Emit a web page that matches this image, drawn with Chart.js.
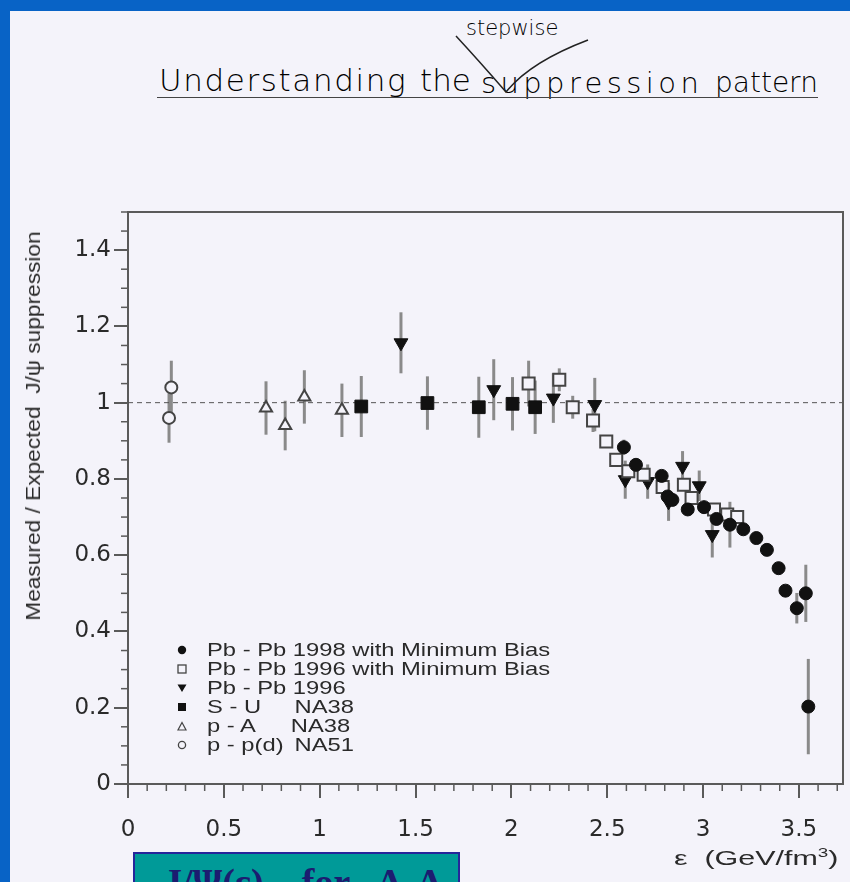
<!DOCTYPE html>
<html>
<head>
<meta charset="utf-8">
<script src="https://cdn.jsdelivr.net/npm/chart.js@4.4.0/dist/chart.umd.min.js"></script>
<style>
  html, body { margin: 0; padding: 0; }
  body { width: 850px; height: 882px; background: #0863c6; position: relative; overflow: hidden;
         font-family: "Liberation Sans", Arial, sans-serif; }
  #paper { position: absolute; left: 10px; top: 11px; width: 840px; height: 871px; background: #f4f3fa; }
  #chart { position: absolute; left: 0; top: 0; }
  .hand { position: absolute; font-family: "DejaVu Sans", sans-serif; font-weight: 200; color: #000; white-space: pre; }
  #underline { position: absolute; left: 157px; top: 97px; width: 661px; height: 0; border-top: 1.5px solid #444; }
  #ylabel { position: absolute; left: 33px; top: 426px; transform: translate(-50%, -50%) rotate(-90deg) scaleX(1.08);
            font-size: 21px; color: #2a2a2a; white-space: pre; }
  #xlabel { position: absolute; right: 12px; top: 845px; font-size: 21px; color: #2a2a2a; white-space: pre;
            transform: scaleX(1.45); transform-origin: right center; }
  #legend { position: absolute; left: 174px; top: 640px; color: #2a2a2a; }
  .row { position: relative; height: 19px; line-height: 19px; }
  .row svg { position: absolute; left: 3px; top: 5px; }
  .txt { position: absolute; left: 33px; font-size: 19px; transform: scaleX(1.25); transform-origin: left center; white-space: pre; }
  .col2 { position: absolute; left: 70px; }
  #box { position: absolute; left: 133px; top: 852px; width: 323px; height: 40px; background: #009a98;
         border: 2px solid #25259a; overflow: hidden; }
  #box span { position: absolute; left: 28px; top: 6px; font-family: "Liberation Serif", serif; font-weight: bold;
              font-size: 38px; color: #1c1c70; white-space: pre; }
</style>
</head>
<body>
<div id="paper"></div>

<div class="hand" style="left:159px; top:62px; font-size:31px; letter-spacing:1.6px;">Understanding</div>
<div class="hand" style="left:420px; top:62px; font-size:31px;">the</div>
<div class="hand" style="left:481px; top:66px; font-size:29px; letter-spacing:4.4px;">suppression</div>
<div class="hand" style="left:715px; top:66px; font-size:28px;">pattern</div>
<div class="hand" style="left:466px; top:16px; font-size:21px;">stepwise</div>
<svg style="position:absolute; left:0; top:0;" width="850" height="120">
  <path d="M456 36 Q480 62 506 92 Q530 62 588 40" fill="none" stroke="#222" stroke-width="1.5"/>
</svg>
<div id="underline"></div>

<canvas id="chart" width="850" height="882"></canvas>

<div id="ylabel">Measured / Expected  J/ψ suppression</div>
<div id="xlabel">ε  (GeV/fm<sup style="font-size:13px">3</sup>)</div>

<div id="legend">
  <div class="row"><svg width="10" height="10"><circle cx="5" cy="5" r="4.2" fill="#111"/></svg><span class="txt">Pb - Pb 1998 with Minimum Bias</span></div>
  <div class="row"><svg width="10" height="10"><rect x="1" y="1" width="8" height="8" fill="none" stroke="#444" stroke-width="1.3"/></svg><span class="txt">Pb - Pb 1996 with Minimum Bias</span></div>
  <div class="row"><svg width="10" height="10"><path d="M0.5 1.5 L9.5 1.5 L5 9 Z" fill="#111"/></svg><span class="txt">Pb - Pb 1996</span></div>
  <div class="row"><svg width="10" height="10"><rect x="1" y="1" width="8" height="8" fill="#111"/></svg><span class="txt">S - U<span class="col2">NA38</span></span></div>
  <div class="row"><svg width="10" height="10"><path d="M1 9 L9 9 L5 1.5 Z" fill="none" stroke="#444" stroke-width="1.2"/></svg><span class="txt">p - A<span class="col2" style="left:67px">NA38</span></span></div>
  <div class="row"><svg width="10" height="10"><circle cx="5" cy="5" r="3.6" fill="none" stroke="#444" stroke-width="1.3"/></svg><span class="txt">p - p(d)<span class="col2">NA51</span></span></div>
</div>

<div id="box"><span>J/Ψ(ε)    for   A-A</span></div>

<script>
// ── Data ─────────────────────────────────────
const pb98X   = [2.587, 2.65, 2.784, 2.815, 2.84, 2.92, 3.005, 3.07, 3.14, 3.21, 3.278, 3.333, 3.394, 3.43, 3.489, 3.536, 3.549];
const pb98Y   = [0.883, 0.837, 0.808, 0.754, 0.745, 0.72, 0.726, 0.695, 0.68, 0.668, 0.645, 0.614, 0.566, 0.507, 0.461, 0.50, 0.203];
const pb98Err = [0.02, 0, 0, 0, 0, 0, 0, 0, 0.06, 0, 0, 0, 0, 0, 0.04, 0.075, 0.125];

const pb96mbX   = [2.09, 2.25, 2.32, 2.426, 2.495, 2.547, 2.61, 2.69, 2.789, 2.90, 2.94, 3.057, 3.126, 3.178];
const pb96mbY   = [1.05, 1.06, 0.988, 0.953, 0.898, 0.850, 0.82, 0.811, 0.779, 0.785, 0.75, 0.72, 0.707, 0.70];
const pb96mbErr = [0.06, 0.03, 0.03, 0.03, 0, 0, 0, 0, 0, 0, 0, 0, 0, 0];

const pb96X   = [1.424, 1.908, 2.219, 2.435, 2.594, 2.711, 2.82, 2.893, 2.98, 3.048];
const pb96Y   = [1.157, 1.034, 1.012, 0.995, 0.798, 0.793, 0.74, 0.833, 0.782, 0.654];
const pb96Err = [0.08, 0.08, 0.065, 0.07, 0.05, 0.045, 0.05, 0.04, 0.04, 0.06];

const suX   = [1.217, 1.562, 1.83, 2.006, 2.124];
const suY   = [0.99, 0.999, 0.988, 0.997, 0.988];
const suErr = [0.08, 0.07, 0.08, 0.07, 0.07];

const paX   = [0.72, 0.82, 0.92, 1.116];
const paY   = [0.986, 0.94, 1.015, 0.98];
const paErr = [0.07, 0.065, 0.07, 0.07];

const ppX   = [0.214, 0.226];
const ppY   = [0.96, 1.04];
const ppErr = [0.065, 0.07];

const refX = [0, 3.73];
const refY = [1, 1];

const xTicks = [0, 0.5, 1, 1.5, 2, 2.5, 3, 3.5];
const yTicks = [0, 0.2, 0.4, 0.6, 0.8, 1, 1.2, 1.4];

const PAPER = '#f4f3fa';
const INK = '#2a2a2a';

function pts(xs, ys) { return xs.map((x, i) => ({ x: x, y: ys[i] })); }

// ── Error bars drawn behind the markers ─────────────────
const errorBars = {
    id: 'errorBars',
    beforeDatasetsDraw(chart) {
        const { ctx, scales: { x, y } } = chart;
        ctx.save();
        ctx.strokeStyle = '#8a8a8a';
        ctx.lineWidth = 3;
        chart.data.datasets.forEach(ds => {
            if (!ds.err) return;
            ds.data.forEach((p, i) => {
                const e = ds.err[i];
                if (!e) return;
                const px = x.getPixelForValue(p.x);
                ctx.beginPath();
                ctx.moveTo(px, y.getPixelForValue(p.y + e));
                ctx.lineTo(px, y.getPixelForValue(p.y - e));
                ctx.stroke();
            });
        });
        ctx.restore();
    }
};

// ── Top/right frame and minor ticks ─────────────────
const frame = {
    id: 'frame',
    afterDraw(chart) {
        const { ctx, chartArea: a, scales: { x, y } } = chart;
        ctx.save();
        ctx.strokeStyle = '#5a5a5a';
        ctx.lineWidth = 2;
        ctx.beginPath();
        ctx.moveTo(a.left, a.top);
        ctx.lineTo(a.right, a.top);
        ctx.lineTo(a.right, a.bottom);
        ctx.stroke();
        ctx.lineWidth = 1.5;
        for (let k = 1; k <= 37; k++) {
            if (k % 5 === 0) continue;
            const px = x.getPixelForValue(k / 10);
            ctx.beginPath(); ctx.moveTo(px, a.bottom); ctx.lineTo(px, a.bottom + 7); ctx.stroke();
        }
        for (let k = 1; k <= 30; k++) {
            if (k % 4 === 0) continue;
            const py = y.getPixelForValue(k / 20);
            ctx.beginPath(); ctx.moveTo(a.left - 7, py); ctx.lineTo(a.left, py); ctx.stroke();
        }
        ctx.restore();
    }
};

const ctx = document.getElementById('chart').getContext('2d');

new Chart(ctx, {
    type: 'scatter',
    data: {
        datasets: [
            { label: 'Pb - Pb 1998 with Minimum Bias', data: pts(pb98X, pb98Y), err: pb98Err,
              pointStyle: 'circle', pointRadius: 6.5, backgroundColor: '#111', borderColor: '#111', borderWidth: 1 },
            { label: 'Pb - Pb 1996 with Minimum Bias', data: pts(pb96mbX, pb96mbY), err: pb96mbErr,
              pointStyle: 'rect', pointRadius: 8.5, backgroundColor: PAPER, borderColor: '#444', borderWidth: 2 },
            { label: 'Pb - Pb 1996', data: pts(pb96X, pb96Y), err: pb96Err,
              pointStyle: 'triangle', rotation: 180, pointRadius: 8, backgroundColor: '#111', borderColor: '#111', borderWidth: 1 },
            { label: 'S - U NA38', data: pts(suX, suY), err: suErr,
              pointStyle: 'rect', pointRadius: 9, backgroundColor: '#111', borderColor: '#111', borderWidth: 1 },
            { label: 'p - A NA38', data: pts(paX, paY), err: paErr,
              pointStyle: 'triangle', pointRadius: 7, backgroundColor: PAPER, borderColor: '#444', borderWidth: 2 },
            { label: 'p - p(d) NA51', data: pts(ppX, ppY), err: ppErr,
              pointStyle: 'circle', pointRadius: 6, backgroundColor: PAPER, borderColor: '#444', borderWidth: 2 },
            { label: 'ref', data: pts(refX, refY), showLine: true, borderColor: '#555', borderWidth: 1,
              borderDash: [5, 4], pointRadius: 0, order: 10 }
        ]
    },
    options: {
        responsive: false,
        animation: false,
        devicePixelRatio: 1,
        layout: { autoPadding: false, padding: { top: 212, right: 7, left: 0, bottom: 0 } },
        plugins: { legend: { display: false }, tooltip: { enabled: false } },
        scales: {
            x: {
                type: 'linear', min: 0, max: 3.73,
                afterFit(s) { s.height = 98; s.paddingLeft = 0; s.paddingRight = 0; },
                afterBuildTicks(s) { s.ticks = xTicks.map(v => ({ value: v })); },
                border: { color: '#5a5a5a', width: 2 },
                grid: { drawOnChartArea: false, tickLength: 14, color: '#5a5a5a', lineWidth: 2 },
                ticks: {
                    padding: 18, color: INK, maxRotation: 0, autoSkip: false,
                    font: { family: 'DejaVu Sans', size: 23 },
                    callback: v => String(v)
                }
            },
            y: {
                type: 'linear', min: 0, max: 1.5,
                afterFit(s) { s.width = 128; s.paddingTop = 0; s.paddingBottom = 0; },
                afterBuildTicks(s) { s.ticks = yTicks.map(v => ({ value: v })); },
                border: { color: '#5a5a5a', width: 2 },
                grid: { drawOnChartArea: false, tickLength: 14, color: '#5a5a5a', lineWidth: 2 },
                ticks: {
                    padding: 3, color: INK, autoSkip: false,
                    font: { family: 'DejaVu Sans', size: 23 },
                    callback: v => String(v)
                }
            }
        }
    },
    plugins: [errorBars, frame]
});
</script>
</body>
</html>
